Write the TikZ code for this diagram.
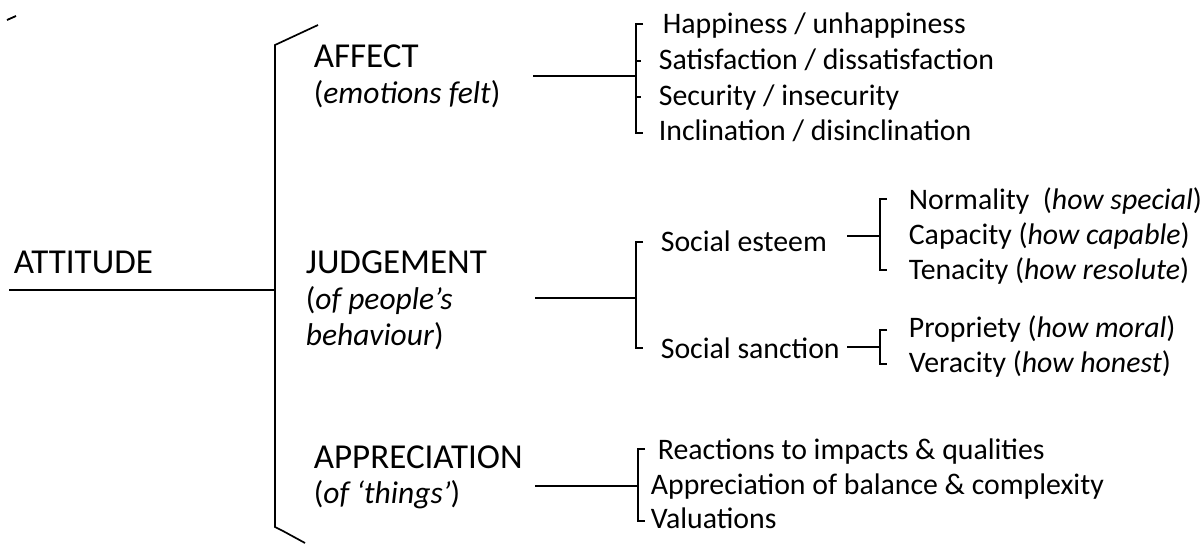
\documentclass[tikz,border=0pt]{standalone}
\usepackage{fontspec}
\setmainfont{Carlito}
\begin{document}
\begin{tikzpicture}[x=1pt,y=-1pt,line width=1.7pt]
\tikzstyle{head} = [anchor=base west,inner sep=0pt,font=\fontsize{35}{40}\selectfont]
\tikzstyle{sub} = [anchor=base west,inner sep=0pt,font=\fontsize{31.5}{36}\selectfont]
\tikzstyle{item} = [anchor=base west,inner sep=0pt,font=\fontsize{29.8}{35}\selectfont]
\useasboundingbox (0,0) rectangle (1202,546);
  %stray mark top left
  \draw[line width=1.8pt] (7,20) -- (16,16);
  %root
  \node[head] (attitude) at (13,273) {ATTITUDE};
  \coordinate (att-start) at (9,290);
  \coordinate (main-hub) at (275,290);
  \draw (att-start) -- (main-hub);
  %big bracket
  \draw (318,25) -- (275,45) -- (275,527) -- (283,531) -- (305,543);
    %affect
    \node[head] (affect) at (313,67) {AFFECT};
    \node[sub] (affect-sub) at (313,103) {(\textit{emotions felt})};
    \coordinate (affect-out) at (533,76);
    \coordinate (affect-hub) at (636,76);
    \draw (affect-out) -- (affect-hub);
    \draw (643,24) -- (636,24) -- (636,133) -- (643,133);
    \foreach \y in {61,97}
      \draw (636,\y) -- (641,\y);
    \node[item] (happy) at (662,33) {Happiness / unhappiness};
    \node[item] (satisf) at (658,69) {Satisfaction / dissatisfaction};
    \node[item] (secur) at (658,105) {Security / insecurity};
    \node[item] (inclin) at (658,140) {Inclination / disinclination};
    %judgement
    \node[head] (judge) at (305,273) {JUDGEMENT};
    \node[sub] (judge-sub) at (305,309) {(\textit{of people's}};
    \node[sub] (judge-sub2) at (305,345) {\textit{behaviour})};
    \coordinate (judge-out) at (535,298);
    \coordinate (judge-hub) at (636,298);
    \draw (judge-out) -- (judge-hub);
    \draw (643,242) -- (636,242) -- (636,348) -- (643,348);
    \node[item] (esteem) at (660,251) {Social esteem};
    \node[item] (sanction) at (660,358) {Social sanction};
      %esteem
      \coordinate (esteem-out) at (847,236);
      \coordinate (esteem-hub) at (880,236);
      \draw (esteem-out) -- (esteem-hub);
      \draw (887,199) -- (880,199) -- (880,270) -- (887,270);
      \node[item] (normal) at (908,209) {Normality~ (\textit{how special})};
      \node[item] (capac) at (908,244) {Capacity (\textit{how capable})};
      \node[item] (tenac) at (908,279) {Tenacity (\textit{how resolute})};
      %sanction
      \coordinate (sanction-out) at (847,347);
      \coordinate (sanction-hub) at (880,347);
      \draw (sanction-out) -- (sanction-hub);
      \draw (887,330) -- (880,330) -- (880,364) -- (887,364);
      \node[item] (propr) at (908,337) {Propriety (\textit{how moral})};
      \node[item] (verac) at (908,372) {Veracity (\textit{how honest})};
    %appreciation
    \node[head] (apprec) at (313,468) {APPRECIATION};
    \node[sub] (apprec-sub) at (313,503) {(\textit{of `things'})};
    \coordinate (apprec-out) at (535,486);
    \coordinate (apprec-hub) at (638,486);
    \draw (apprec-out) -- (apprec-hub);
    \draw (645,449) -- (638,449) -- (638,521) -- (645,521);
    \node[item] (react) at (657,459) {Reactions to impacts \& qualities};
    \node[item] (balance) at (650,494) {Appreciation of balance \& complexity};
    \node[item] (valu) at (650,528) {Valuations};
\end{tikzpicture}
\end{document}
